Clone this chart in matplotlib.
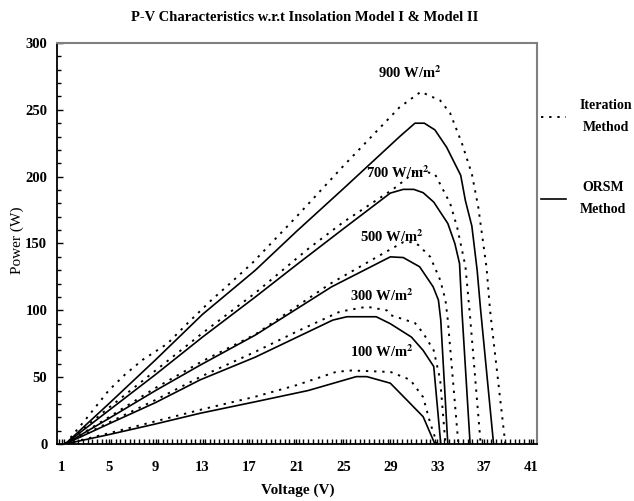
import matplotlib
matplotlib.use("Agg")
import matplotlib.pyplot as plt
from matplotlib.ticker import MultipleLocator

plt.rcParams['font.family'] = ['Liberation Serif', 'DejaVu Serif']
plt.rcParams['mathtext.fontset'] = 'stix'

# ORSM method (solid)
v100_s = [1.3, 5, 9, 12.8, 17.5, 22, 26.1, 27, 29, 30.4, 31.8, 32.8]
p100_s = [0, 7, 15, 23, 31.6, 40, 50.4, 50.4, 45.5, 33, 20.4, 0]
v300_s = [1.3, 5, 9, 12.8, 17.5, 24.1, 25.3, 27.8, 29, 30.8, 31.8, 32.7, 33.3]
p300_s = [0, 15, 31, 48, 65, 92.7, 95.2, 95.2, 90, 80, 70, 58, 0]
v500_s = [1.3, 5, 9, 12.8, 17.5, 24, 29, 30.1, 31.5, 32.65, 33.1, 33.3, 33.9]
p500_s = [0, 19, 40, 59, 81.5, 117.6, 140, 139.5, 132.6, 117.6, 107.7, 92.7, 0]
v700_s = [1.3, 5, 9, 13, 17.5, 21, 25, 29, 30.1, 31, 31.8, 32.7, 33.9, 34.5, 34.9, 35.1, 35.8]
p700_s = [0, 25, 52, 80, 110, 134, 161, 187.7, 190.5, 190.5, 188, 181, 165, 150, 135, 100, 0]
v900_s = [1.3, 5, 9, 13, 17.5, 21, 25, 29.8, 31.1, 31.9, 32.8, 33.8, 35.0, 35.4, 35.95, 36.4, 36.7, 37.8]
p900_s = [0, 30, 63, 97, 130, 159, 191, 230, 240, 240, 235, 222, 201, 182, 163, 130, 100, 0]

# Iteration method (dotted)
v100_d = [1.3, 5, 9, 13, 17.5, 21, 24.4, 25.7, 28.7, 29, 30.7, 31.8, 32.4, 33.0]
p100_d = [0, 8, 17, 26, 35.4, 44, 54, 55, 54, 54, 48, 35, 15.7, 0]
v300_d = [1.3, 5, 9, 13, 17.5, 21, 24.7, 27, 28.7, 29, 31.1, 31.8, 32.7, 33.25, 33.7]
p300_d = [0, 16, 33, 51, 69, 84, 99, 102.7, 100, 96.5, 90.5, 83, 70, 48, 0]
v500_d = [1.3, 5, 9, 13, 17.5, 23.9, 28.4, 30.1, 30.9, 31.4, 32.4, 33.25, 33.7, 33.9, 34.8]
p500_d = [0, 20, 42, 62, 82, 120, 142.6, 151, 151, 148.8, 140, 122.7, 107.7, 92.7, 0]
v700_d = [1.3, 5, 9, 13, 17.5, 22, 25, 29.3, 31.3, 32.8, 34.1, 34.7, 35.4, 35.8, 36.7]
p700_d = [0, 27, 55, 83, 113, 146, 166, 191, 205, 202, 180, 162, 133, 95, 0]
v900_d = [1.3, 3.1, 5, 6.4, 7.9, 10, 11.8, 13.8, 15.2, 17.2, 21, 25, 29.8, 31.6,
          33.25, 34.1, 35.1, 35.95, 36.5, 37.2, 37.5, 38.8]
p900_d = [0, 19, 40, 52, 63, 75, 91, 108, 119, 135, 170, 208, 252, 263.5,
          257, 247.5, 225, 202, 177, 132, 100, 0]

labels = ['900 W/m$^{\\mathbf{2}}$', '700 W/m$^{\\mathbf{2}}$', '500 W/m$^{\\mathbf{2}}$',
          '300 W/m$^{\\mathbf{2}}$', '100 W/m$^{\\mathbf{2}}$']
label_x = [30.7, 29.6, 29.1, 28.3, 28.3]
label_y = [278, 203, 155, 111, 69]

fig = plt.figure(figsize=(6.34, 5.01), dpi=100)
ax = fig.add_axes([57 / 634, 57 / 501, 480 / 634, 401 / 501])

dot = (0, (1.2, 3.0))
solid_sets = [(v100_s, p100_s), (v300_s, p300_s), (v500_s, p500_s), (v700_s, p700_s), (v900_s, p900_s)]
dot_sets = [(v100_d, p100_d), (v300_d, p300_d), (v500_d, p500_d), (v700_d, p700_d), (v900_d, p900_d)]
for v, p in dot_sets:
    ld, = ax.plot(v, p, color='black', lw=1.4, linestyle=dot)
for v, p in solid_sets:
    ls, = ax.plot(v, p, color='black', lw=1.2)

for t, x, y in zip(labels, label_x, label_y):
    ax.text(x, y, t, ha='center', va='center', fontsize=10.5, fontweight='bold')

ax.set_xlim(0.6, 41.5)
ax.set_ylim(0, 300)
ax.set_xticks(range(1, 42, 4))
ax.xaxis.set_minor_locator(MultipleLocator(0.4))
ax.yaxis.set_major_locator(MultipleLocator(50))
ax.yaxis.set_minor_locator(MultipleLocator(10))
ax.tick_params(which='both', direction='in', labelsize=10.5, width=1)
ax.tick_params(axis='x', which='both', length=3.5, pad=12)
ax.tick_params(axis='y', which='major', length=4, pad=7)
ax.tick_params(axis='y', which='minor', length=3)
for lab in ax.get_xticklabels() + ax.get_yticklabels():
    lab.set_fontweight('bold')

for s in ['top', 'right']:
    ax.spines[s].set_color('#808080')
    ax.spines[s].set_linewidth(1.5)
for s in ['left', 'bottom']:
    ax.spines[s].set_linewidth(1.3)

fig.text(0.48, 0.966, 'P-V Characteristics w.r.t Insolation Model I & Model II',
         ha='center', va='center', fontsize=10.5, fontweight='bold')
fig.text(0.47, 0.022, 'Voltage (V)', ha='center', va='center', fontsize=11, fontweight='bold')
fig.text(0.027, 0.521, 'Power (W)', ha='center', va='center', fontsize=11, rotation=90)

leg = fig.legend([ld, ls], ['Iteration\nMethod', 'ORSM\nMethod'], loc='upper left',
                 bbox_to_anchor=(541 / 634, 1 - 99 / 501), frameon=False,
                 handlelength=1.8, handletextpad=1.0, labelspacing=3.4,
                 borderpad=0, borderaxespad=0, prop={'weight': 'bold', 'size': 10})
for t in leg.get_texts():
    t.set_multialignment('center')
    t.set_linespacing(1.9)

fig.savefig('out.png', dpi=100)
